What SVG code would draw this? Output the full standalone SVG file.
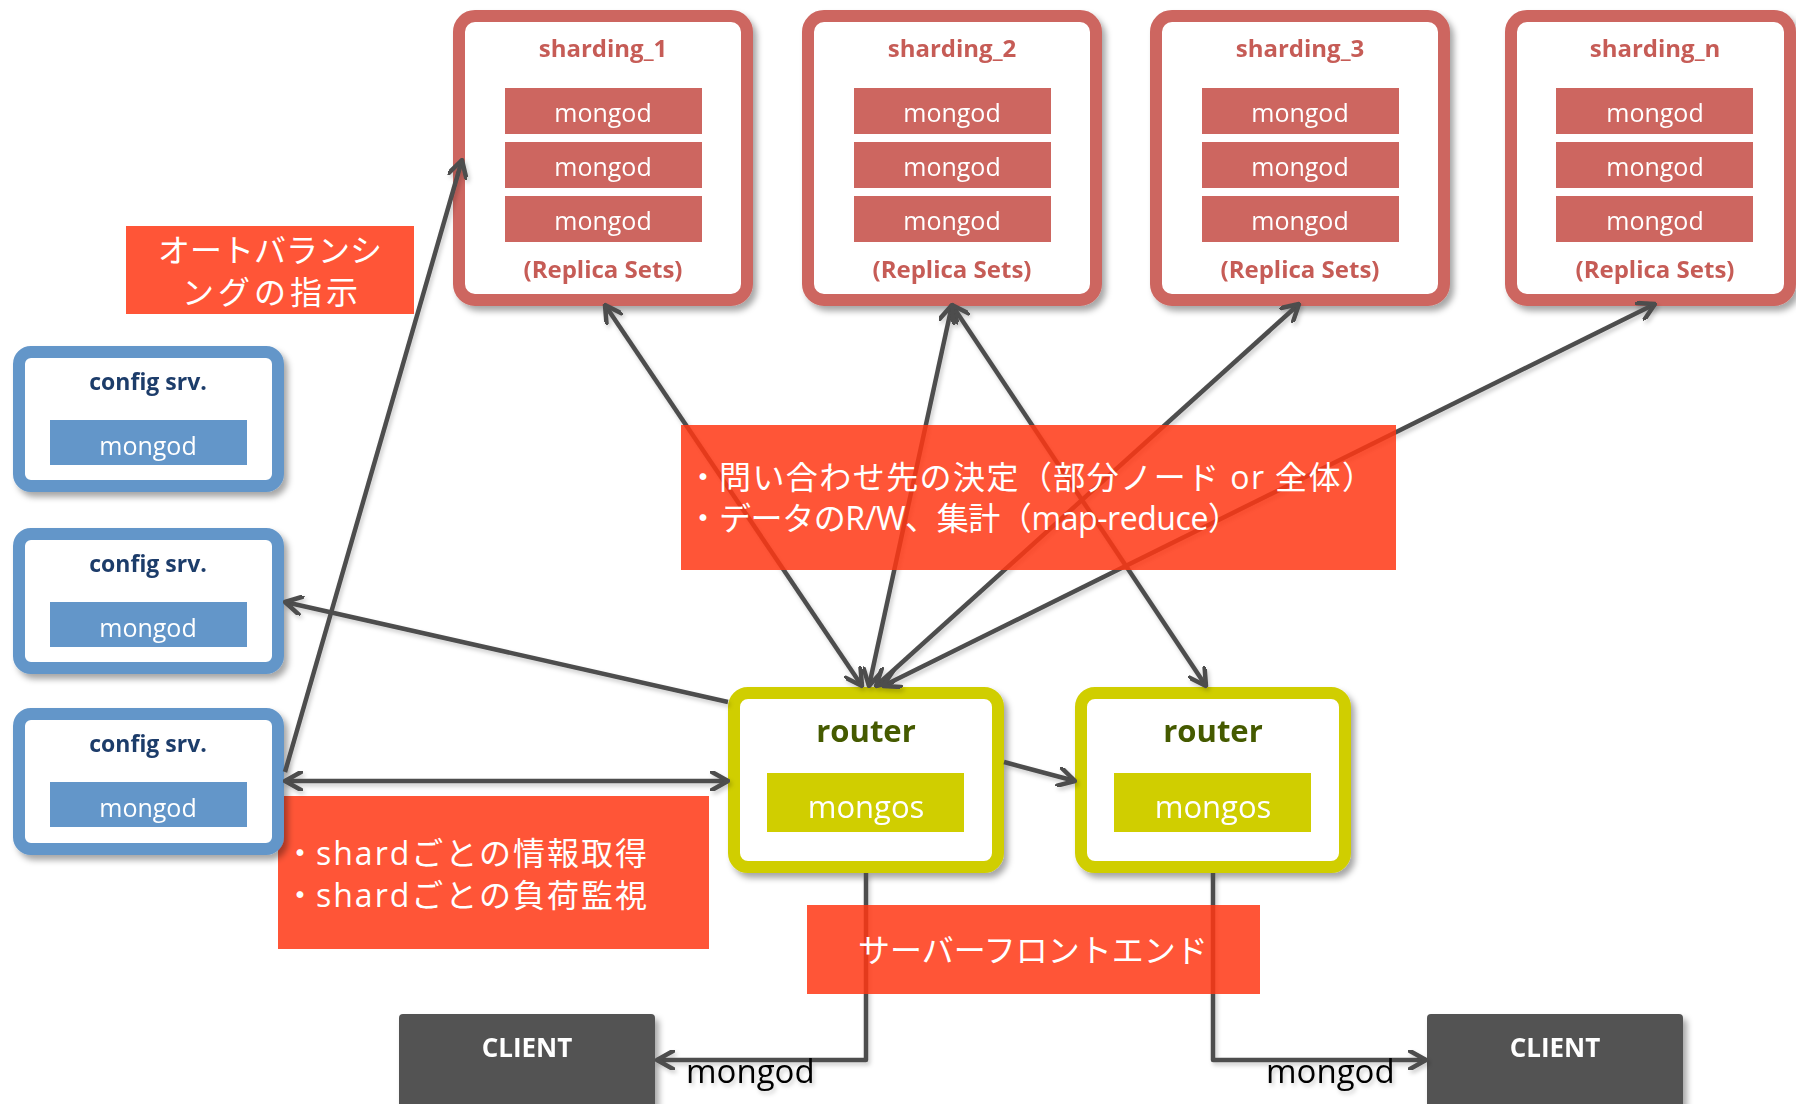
<svg xmlns="http://www.w3.org/2000/svg" width="1796" height="1104" viewBox="0 0 1796 1104">
  <defs>
    <style>
      text { font-family: "Open Sans", "Noto Sans CJK JP", sans-serif; }
      .shard-frame { fill: #ffffff; stroke: #CD6660; stroke-width: 12; }
      .shard-title { fill: #C65C57; font-size: 24px; font-weight: 700; text-anchor: middle; }
      .shard-proc { fill: #CD6660; }
      .proc-text { fill: #ffffff; font-size: 25px; text-anchor: middle; }
      .cfg-frame { fill: #ffffff; stroke: #6396C9; stroke-width: 12; }
      .cfg-title { fill: #1F3C6B; font-size: 23px; font-weight: 700; text-anchor: middle; }
      .cfg-proc { fill: #6396C9; }
      .rt-frame { fill: #ffffff; stroke: #D0CE00; stroke-width: 12; }
      .rt-title { fill: #455A00; font-size: 31px; font-weight: 700; text-anchor: middle; }
      .rt-proc { fill: #D0CE00; }
      .rt-text { fill: #ffffff; font-size: 31px; text-anchor: middle; }
      .client { fill: #535353; }
      .client-text { fill: #ffffff; font-size: 26px; font-weight: 700; text-anchor: middle; }
      .note { fill: #FF3714; fill-opacity: 0.85; }
      .note-text { fill: #ffffff; font-size: 32px; }
      .link { fill: none; stroke: #4D4D4D; stroke-width: 4.5; stroke-linejoin: round; }
      .link-label { fill: #000000; font-size: 33px; }
    </style>
    <filter id="shadow" x="-10%" y="-10%" width="130%" height="130%">
      <feDropShadow dx="4" dy="5" stdDeviation="3" flood-color="#000000" flood-opacity="0.35"/>
    </filter>
    <filter id="lineShadow" x="-5%" y="-5%" width="110%" height="110%">
      <feDropShadow dx="2" dy="3" stdDeviation="2" flood-color="#000000" flood-opacity="0.2"/>
    </filter>
    <marker id="arrow" viewBox="0 0 20 20" refX="18" refY="10" markerWidth="20" markerHeight="20" markerUnits="userSpaceOnUse" orient="auto-start-reverse">
      <path d="M2,1 L18,10 L2,19" fill="none" stroke="#4D4D4D" stroke-width="4.5" stroke-linecap="round" stroke-linejoin="round"/>
    </marker>
  </defs>

  <rect width="1796" height="1104" fill="#ffffff"/>

  <!-- note: per-shard monitoring (sits under the config server frame) -->
  <g id="note-shard-info">
    <rect class="note" x="278" y="796" width="431" height="153"/>
    <text class="note-text" y="865"><tspan x="284">・</tspan><tspan x="316" textLength="331" lengthAdjust="spacing">shardごとの情報取得</tspan></text>
    <text class="note-text" y="907"><tspan x="284">・</tspan><tspan x="316" textLength="331" lengthAdjust="spacing">shardごとの負荷監視</tspan></text>
  </g>

  <!-- shards -->
  <g id="shard-1" filter="url(#shadow)">
    <rect class="shard-frame" x="459" y="16" width="288" height="284" rx="16"/>
    <text class="shard-title" x="603" y="57">sharding_1</text>
    <rect class="shard-proc" x="505" y="88" width="197" height="46"/>
    <rect class="shard-proc" x="505" y="142" width="197" height="46"/>
    <rect class="shard-proc" x="505" y="196" width="197" height="46"/>
    <text class="proc-text" x="603" y="122">mongod</text>
    <text class="proc-text" x="603" y="176">mongod</text>
    <text class="proc-text" x="603" y="230">mongod</text>
    <text class="shard-title" x="603" y="278">(Replica Sets)</text>
  </g>
  <g id="shard-2" filter="url(#shadow)">
    <rect class="shard-frame" x="808" y="16" width="288" height="284" rx="16"/>
    <text class="shard-title" x="952" y="57">sharding_2</text>
    <rect class="shard-proc" x="854" y="88" width="197" height="46"/>
    <rect class="shard-proc" x="854" y="142" width="197" height="46"/>
    <rect class="shard-proc" x="854" y="196" width="197" height="46"/>
    <text class="proc-text" x="952" y="122">mongod</text>
    <text class="proc-text" x="952" y="176">mongod</text>
    <text class="proc-text" x="952" y="230">mongod</text>
    <text class="shard-title" x="952" y="278">(Replica Sets)</text>
  </g>
  <g id="shard-3" filter="url(#shadow)">
    <rect class="shard-frame" x="1156" y="16" width="288" height="284" rx="16"/>
    <text class="shard-title" x="1300" y="57">sharding_3</text>
    <rect class="shard-proc" x="1202" y="88" width="197" height="46"/>
    <rect class="shard-proc" x="1202" y="142" width="197" height="46"/>
    <rect class="shard-proc" x="1202" y="196" width="197" height="46"/>
    <text class="proc-text" x="1300" y="122">mongod</text>
    <text class="proc-text" x="1300" y="176">mongod</text>
    <text class="proc-text" x="1300" y="230">mongod</text>
    <text class="shard-title" x="1300" y="278">(Replica Sets)</text>
  </g>
  <g id="shard-n" filter="url(#shadow)">
    <rect class="shard-frame" x="1511" y="16" width="279" height="284" rx="16"/>
    <text class="shard-title" x="1655" y="57">sharding_n</text>
    <rect class="shard-proc" x="1556" y="88" width="197" height="46"/>
    <rect class="shard-proc" x="1556" y="142" width="197" height="46"/>
    <rect class="shard-proc" x="1556" y="196" width="197" height="46"/>
    <text class="proc-text" x="1655" y="122">mongod</text>
    <text class="proc-text" x="1655" y="176">mongod</text>
    <text class="proc-text" x="1655" y="230">mongod</text>
    <text class="shard-title" x="1655" y="278">(Replica Sets)</text>
  </g>

  <!-- config servers -->
  <g id="config-1" filter="url(#shadow)">
    <rect class="cfg-frame" x="19" y="352" width="259" height="134" rx="12"/>
    <text class="cfg-title" x="148" y="390">config srv.</text>
    <rect class="cfg-proc" x="50" y="420" width="197" height="45"/>
    <text class="proc-text" x="148" y="455">mongod</text>
  </g>
  <g id="config-2" filter="url(#shadow)">
    <rect class="cfg-frame" x="19" y="534" width="259" height="134" rx="12"/>
    <text class="cfg-title" x="148" y="572">config srv.</text>
    <rect class="cfg-proc" x="50" y="602" width="197" height="45"/>
    <text class="proc-text" x="148" y="637">mongod</text>
  </g>
  <g id="config-3" filter="url(#shadow)">
    <rect class="cfg-frame" x="19" y="714" width="259" height="135" rx="12"/>
    <text class="cfg-title" x="148" y="752">config srv.</text>
    <rect class="cfg-proc" x="50" y="782" width="197" height="45"/>
    <text class="proc-text" x="148" y="817">mongod</text>
  </g>

  <!-- routers -->
  <g id="router-1" filter="url(#shadow)">
    <rect class="rt-frame" x="734" y="693" width="264" height="174" rx="14"/>
    <text class="rt-title" x="866" y="742">router</text>
    <rect class="rt-proc" x="767" y="773" width="197" height="59"/>
    <text class="rt-text" x="866" y="818">mongos</text>
  </g>
  <g id="router-2" filter="url(#shadow)">
    <rect class="rt-frame" x="1081" y="693" width="264" height="174" rx="14"/>
    <text class="rt-title" x="1213" y="742">router</text>
    <rect class="rt-proc" x="1114" y="773" width="197" height="59"/>
    <text class="rt-text" x="1213" y="818">mongos</text>
  </g>

  <!-- clients -->
  <g id="client-1" filter="url(#shadow)">
    <rect class="client" x="399" y="1014" width="256" height="110" rx="4"/>
    <text class="client-text" x="527" y="1057">CLIENT</text>
  </g>
  <g id="client-2" filter="url(#shadow)">
    <rect class="client" x="1427" y="1014" width="256" height="110" rx="4"/>
    <text class="client-text" x="1555" y="1057">CLIENT</text>
  </g>

  <!-- note: auto-balancing instruction -->
  <g id="note-balancing">
    <rect class="note" x="126" y="226" width="288" height="88"/>
    <text class="note-text" x="270" y="262" text-anchor="middle" textLength="224" lengthAdjust="spacing">オートバランシ</text>
    <text class="note-text" x="270" y="304" text-anchor="middle" textLength="176" lengthAdjust="spacing">ングの指示</text>
  </g>

  <!-- connectors -->
  <g id="connectors" filter="url(#lineShadow)">
    <line class="link" x1="285" y1="772" x2="462" y2="160" marker-end="url(#arrow)"/>
    <line class="link" x1="728" y1="702" x2="285" y2="602" marker-end="url(#arrow)"/>
    <line class="link" x1="285" y1="781" x2="728" y2="781" marker-start="url(#arrow)" marker-end="url(#arrow)"/>
    <line class="link" x1="1004" y1="762" x2="1075" y2="781" marker-end="url(#arrow)"/>
    <line class="link" x1="605" y1="305" x2="862" y2="686" marker-start="url(#arrow)" marker-end="url(#arrow)"/>
    <line class="link" x1="952" y1="305" x2="869" y2="686" marker-start="url(#arrow)" marker-end="url(#arrow)"/>
    <line class="link" x1="952" y1="305" x2="1206" y2="686" marker-start="url(#arrow)" marker-end="url(#arrow)"/>
    <line class="link" x1="1299" y1="304" x2="876" y2="686" marker-start="url(#arrow)" marker-end="url(#arrow)"/>
    <line class="link" x1="1655" y1="304" x2="883" y2="686" marker-start="url(#arrow)" marker-end="url(#arrow)"/>
    <polyline class="link" points="866,873 866,1060 657,1060" marker-end="url(#arrow)"/>
    <polyline class="link" points="1213,873 1213,1060 1426,1060" marker-end="url(#arrow)"/>
    <text class="link-label" x="686" y="1083">mongod</text>
    <text class="link-label" x="1266" y="1083">mongod</text>
  </g>

  <!-- note: query routing -->
  <g id="note-routing">
    <rect class="note" x="681" y="425" width="715" height="145"/>
    <text class="note-text" y="489"><tspan x="687">・</tspan><tspan x="719" textLength="655" lengthAdjust="spacing">問い合わせ先の決定（部分ノード or 全体）</tspan></text>
    <text class="note-text" y="530"><tspan x="687">・</tspan><tspan x="719" textLength="521" lengthAdjust="spacing">データのR/W、集計（map-reduce）</tspan></text>
  </g>

  <!-- note: server front end -->
  <g id="note-frontend">
    <rect class="note" x="807" y="905" width="453" height="89"/>
    <text class="note-text" x="1033" y="962" text-anchor="middle">サーバーフロントエンド</text>
  </g>
</svg>
